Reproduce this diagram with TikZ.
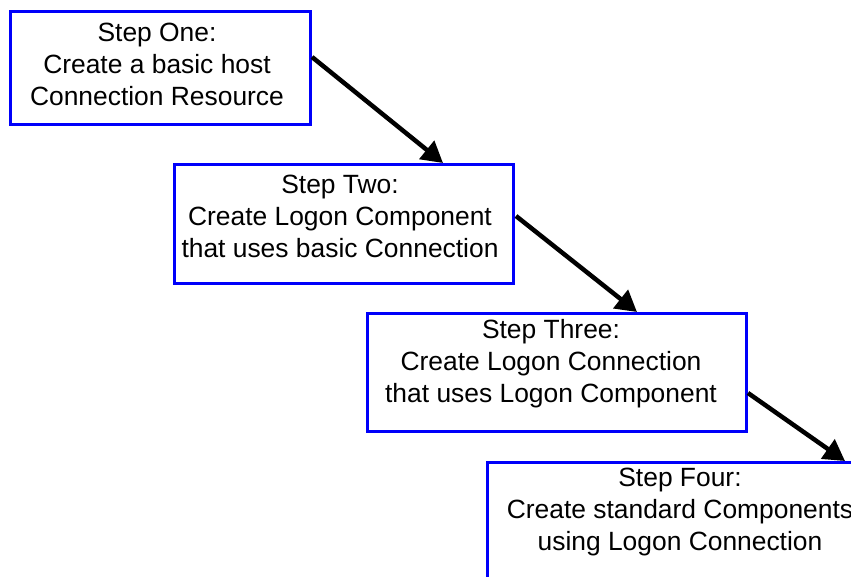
\documentclass[tikz,border=0pt]{standalone}
\usepackage{fontspec}
\setmainfont{Liberation Sans}
\usetikzlibrary{arrows.meta,calc}
\definecolor{boxblue}{RGB}{0,0,250}
\begin{document}
\begin{tikzpicture}[x=1pt,y=-1pt,
  box/.style={draw=boxblue, line width=3pt, fill=white, anchor=north west, inner sep=0pt},
  txt/.style={align=center, font=\fontsize{26.4}{32}\selectfont, inner sep=0pt},
  arr/.style={line width=4.5pt, -{Triangle[length=21pt,width=23pt]}}]
\useasboundingbox (0,0) rectangle (851,576);
\clip (0,0) rectangle (851,576);
\node[box, minimum width=300pt, minimum height=113pt] (s1) at (9,10) {};
\node[box, minimum width=339pt, minimum height=119pt] (s2) at (173,163) {};
\node[box, minimum width=379pt, minimum height=118pt] (s3) at (366,312) {};
\node[box, minimum width=390pt, minimum height=125pt] (s4) at (486,461) {};
\node[txt] (t1) at (157,64) {Step One:\\Create a basic host\\Connection Resource};
\node[txt] (t2) at (340,216) {Step Two:\\Create Logon Component\\that uses basic Connection};
\node[txt] (t3) at (551,364) {Step Three:\\Create Logon Connection\\that uses Logon Component};
\node[txt] (t4) at (680,512) {Step Four:\\Create standard Components\\using Logon Connection};
\draw[arr] ($(s1.north east)+(0,47)$) -- ($(s2.north west)+(270,0)$);
\draw[arr] ($(s2.north east)+(1,53)$) -- ($(s3.north west)+(271,0)$);
\draw[arr] ($(s3.north east)+(0,81)$) -- ($(s4.north west)+(359,0)$);
\end{tikzpicture}
\end{document}
